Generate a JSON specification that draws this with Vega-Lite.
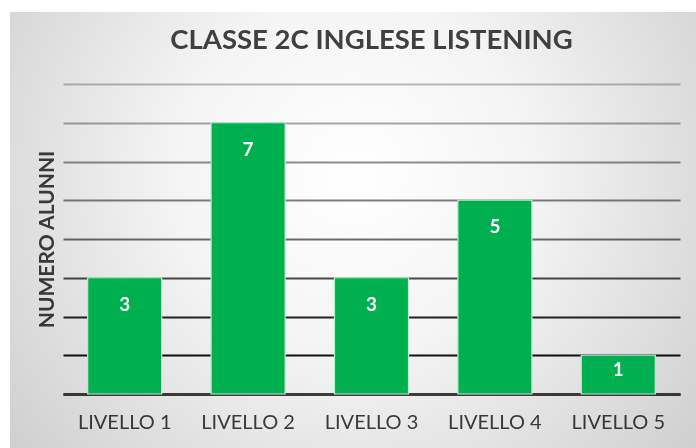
{
  "$schema": "https://vega.github.io/schema/vega-lite/v6.json",
  "width": 617,
  "height": 310,
  "autosize": {"type": "none"},
  "padding": {"left": 63, "top": 84, "right": 16, "bottom": 54},
  "background": "#ffffff",
  "config": {
    "view": {"stroke": null},
    "font": "Lato",
    "axisY": {
      "title": "NUMERO ALUNNI",
      "titleFont": "Lato",
      "titleFontSize": 21,
      "titleFontWeight": "bold",
      "titleColor": "#404040",
      "titlePadding": 6,
      "labels": false,
      "ticks": false,
      "domain": false,
      "grid": true,
      "gridWidth": 2
    }
  },
  "title": {
    "text": "CLASSE 2C INGLESE LISTENING",
    "font": "Lato",
    "fontSize": 27.5,
    "fontWeight": "bold",
    "color": "#404040",
    "anchor": "middle",
    "frame": "group",
    "baseline": "alphabetic",
    "offset": -64
  },
  "resolve": {"scale": {"x": "independent"}},
  "layer": [
    {
      "data": {"values": [{"panel": "sfondo"}]},
      "mark": {
        "type": "rect",
        "clip": false,
        "blend": "multiply",
        "fill": {
          "gradient": "radial",
          "x1": 0.5, "y1": 0.42, "r1": 0,
          "x2": 0.5, "y2": 0.42, "r2": 0.75,
          "stops": [
            {"offset": 0, "color": "#ffffff"},
            {"offset": 0.35, "color": "#f4f4f4"},
            {"offset": 1, "color": "#c4c4c4"}
          ]
        }
      },
      "encoding": {
        "x": {"datum": -0.0859, "type": "quantitative", "scale": {"domain": [0, 1]}, "axis": null},
        "x2": {"datum": 1.0259},
        "y": {
          "datum": 9.858,
          "type": "quantitative",
          "scale": {"domain": [0, 8]},
          "axis": {
            "title": "NUMERO ALUNNI",
            "values": [0, 1, 2, 3, 4, 5, 6, 7, 8],
            "gridColor": {
              "condition": [
                {"test": "datum.value <= 1", "value": "#111111"},
                {"test": "datum.value <= 2", "value": "#222222"},
                {"test": "datum.value <= 3", "value": "#4a4a4a"},
                {"test": "datum.value <= 4", "value": "#6e6e6e"},
                {"test": "datum.value <= 5", "value": "#808080"},
                {"test": "datum.value <= 6", "value": "#8e8e8e"},
                {"test": "datum.value <= 7", "value": "#a8a8a8"}
              ],
              "value": "#bdbdbd"
            }
          }
        },
        "y2": {"datum": -1.394}
      }
    },
    {
      "data": {
        "values": [
          {"livello": "LIVELLO 1", "alunni": 3},
          {"livello": "LIVELLO 2", "alunni": 7},
          {"livello": "LIVELLO 3", "alunni": 3},
          {"livello": "LIVELLO 4", "alunni": 5},
          {"livello": "LIVELLO 5", "alunni": 1}
        ]
      },
      "encoding": {
        "x": {
          "field": "livello",
          "type": "nominal",
          "sort": null,
          "scale": {"paddingInner": 0.4, "paddingOuter": 0.2},
          "axis": {
            "title": null,
            "labelAngle": 0,
            "labelFont": "Lato",
            "labelFontSize": 20,
            "labelColor": "#404040",
            "labelPadding": 18,
            "ticks": false,
            "domain": true,
            "domainColor": "#404040",
            "domainWidth": 3,
            "grid": false
          }
        },
        "y": {
          "field": "alunni",
          "type": "quantitative",
          "scale": {"domain": [0, 8]},
          "axis": {
            "title": "NUMERO ALUNNI",
            "values": [0, 1, 2, 3, 4, 5, 6, 7, 8],
            "gridColor": {
              "condition": [
                {"test": "datum.value <= 1", "value": "#111111"},
                {"test": "datum.value <= 2", "value": "#222222"},
                {"test": "datum.value <= 3", "value": "#4a4a4a"},
                {"test": "datum.value <= 4", "value": "#6e6e6e"},
                {"test": "datum.value <= 5", "value": "#808080"},
                {"test": "datum.value <= 6", "value": "#8e8e8e"},
                {"test": "datum.value <= 7", "value": "#a8a8a8"}
              ],
              "value": "#bdbdbd"
            }
          }
        }
      },
      "layer": [
        {
          "mark": {"type": "bar", "fill": "#00b050", "stroke": "#bfeccd", "strokeWidth": 1.2}
        },
        {
          "mark": {
            "type": "text",
            "font": "Lato",
            "fontSize": 19,
            "fontWeight": "bold",
            "color": "#ffffff",
            "baseline": "middle",
            "dy": {"expr": "datum.alunni < 2 ? 15 : 27"}
          },
          "encoding": {"text": {"field": "alunni", "type": "quantitative"}}
        }
      ]
    }
  ]
}
